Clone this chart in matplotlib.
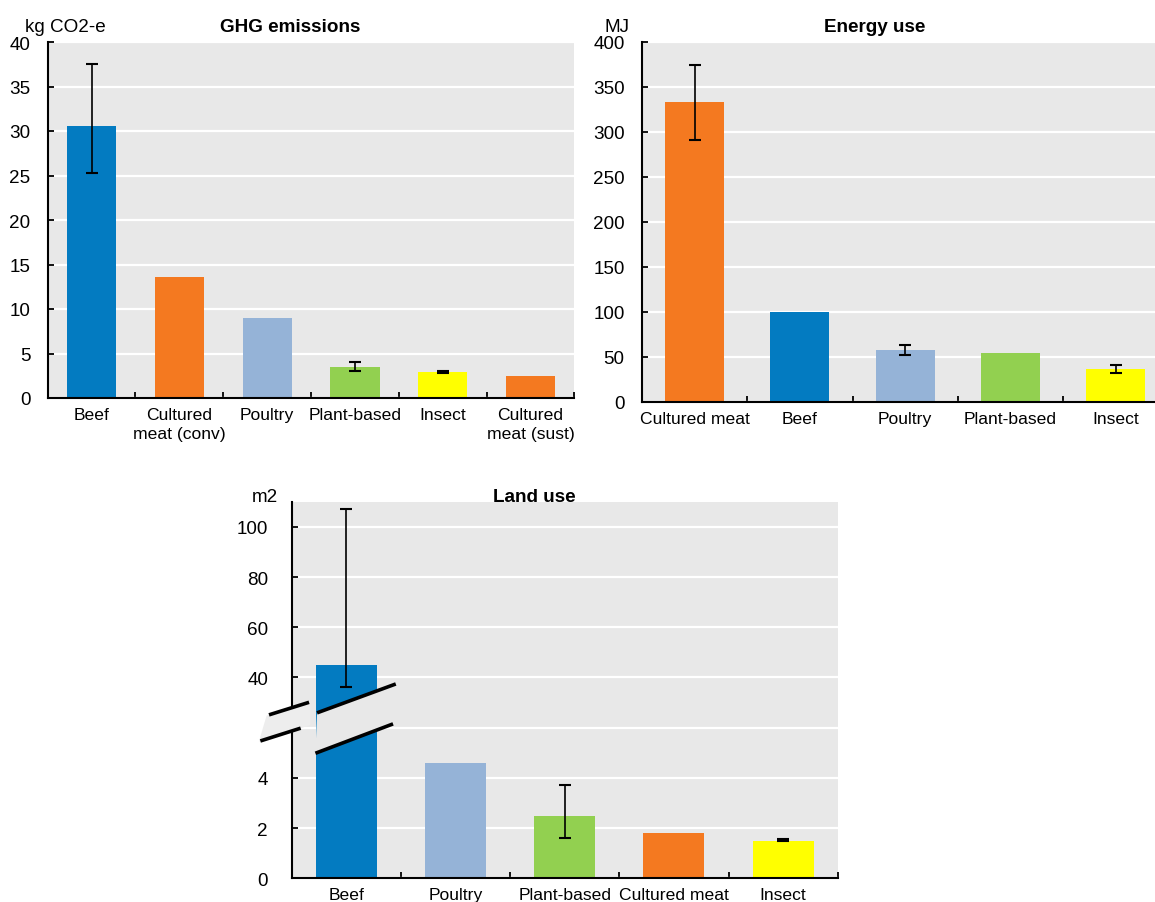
import numpy as np
import matplotlib
matplotlib.use('Agg')
import matplotlib.pyplot as plt
from matplotlib.transforms import blended_transform_factory
from matplotlib.patches import Polygon

plt.rcParams['font.family'] = ['Liberation Sans Narrow', 'Liberation Sans', 'DejaVu Sans']
plt.rcParams['font.size'] = 12.6
plt.rcParams['ytick.labelsize'] = 13.6

BLUE = '#037BC1'
ORANGE = '#F47920'
LIGHTBLUE = '#95B3D7'
GREEN = '#92D050'
YELLOW = '#FFFF00'
BG = '#E8E8E8'

# GHG emissions, kg CO2-e
ghg_labels = ['Beef', 'Cultured\nmeat (conv)', 'Poultry', 'Plant-based', 'Insect', 'Cultured\nmeat (sust)']
ghg_values = [30.6, 13.6, 9.0, 3.5, 2.92, 2.5]
ghg_low = [25.3, None, None, 3.05, 2.85, None]
ghg_high = [37.5, None, None, 4.0, 3.07, None]
ghg_colors = [BLUE, ORANGE, LIGHTBLUE, GREEN, YELLOW, ORANGE]

# Energy use, MJ
energy_labels = ['Cultured meat', 'Beef', 'Poultry', 'Plant-based', 'Insect']
energy_values = [332.7, 100.0, 57.4, 54.0, 36.3]
energy_low = [291.0, None, 51.5, None, 32.0]
energy_high = [373.8, None, 63.3, None, 40.3]
energy_colors = [ORANGE, BLUE, LIGHTBLUE, GREEN, YELLOW]

# Land use, m2
land_labels = ['Beef', 'Poultry', 'Plant-based', 'Cultured meat', 'Insect']
land_values = [45.0, 4.6, 2.5, 1.8, 1.5]
land_low = [36.2, None, 1.6, None, 1.48]
land_high = [107.1, None, 3.7, None, 1.55]
land_colors = [BLUE, LIGHTBLUE, GREEN, ORANGE, YELLOW]

HEAD = 13.6


def style_axes(ax, n, labels, ypad):
    ax.set_facecolor(BG)
    ax.set_axisbelow(True)
    ax.grid(axis='y', color='white', lw=1.6)
    ax.grid(axis='x', visible=False)
    for s in ['top', 'right']:
        ax.spines[s].set_visible(False)
    for s in ['left', 'bottom']:
        ax.spines[s].set_color('black')
        ax.spines[s].set_linewidth(1.5)
    ax.set_xlim(-0.5, n - 0.5)
    ax.set_xticks(range(n))
    ax.set_xticklabels(labels, linespacing=1.3)
    ax.set_xticks(np.arange(0.5, n), minor=True)
    ax.tick_params(axis='x', which='major', length=0, pad=6.5)
    ax.tick_params(axis='x', which='minor', direction='in', length=4, width=1.3, color='black')
    ax.tick_params(axis='y', direction='in', length=4, width=1.3, color='black', pad=ypad)


def draw_bars(ax, values, low, high, colors):
    x = np.arange(len(values))
    ax.bar(x, values, width=0.56, color=colors, zorder=2)
    for i, (v, lo, hi) in enumerate(zip(values, low, high)):
        if lo is None:
            continue
        ax.errorbar(i, v, yerr=[[v - lo], [hi - v]], fmt='none', ecolor='black',
                    elinewidth=1.2, capsize=4, capthick=1.5, zorder=3)


fig = plt.figure(figsize=(11.55, 9.03), dpi=100)
W, H = 1155, 903


def fig_xy(px, py):
    return px / W, 1 - py / H


# GHG emissions
ax1 = fig.add_axes([47.7 / W, 1 - 399 / H, 526.8 / W, 356 / H])
style_axes(ax1, len(ghg_values), ghg_labels, 12.5)
draw_bars(ax1, ghg_values, ghg_low, ghg_high, ghg_colors)
ax1.set_ylim(0, 40)
ax1.set_yticks(range(0, 41, 5))
fig.text(*fig_xy(25, 32.5), 'kg CO2-e', ha='left', va='baseline', fontsize=HEAD)
fig.text(*fig_xy(290, 32.5), 'GHG emissions', ha='center', va='baseline',
         fontweight='bold', fontsize=HEAD)

# Energy use
ax2 = fig.add_axes([642 / W, 1 - 402.7 / H, 526.5 / W, 360 / H])
style_axes(ax2, len(energy_values), energy_labels, 12.5)
draw_bars(ax2, energy_values, energy_low, energy_high, energy_colors)
ax2.set_ylim(0, 400)
ax2.set_yticks(range(0, 401, 50))
fig.text(*fig_xy(605, 32.5), 'MJ', ha='left', va='baseline', fontsize=HEAD)
fig.text(*fig_xy(875, 32.5), 'Energy use', ha='center', va='baseline',
         fontweight='bold', fontsize=HEAD)


# Land use: broken axis, 0-6 linear below, 20-110 compressed tenfold above
def land_fwd(v):
    v = np.asarray(v, dtype=float)
    return np.where(v <= 6, v, np.where(v >= 20, 4 + v / 10, 6.0))


def land_inv(d):
    d = np.asarray(d, dtype=float)
    return np.where(d <= 6, d, 10 * (d - 4))


ax3 = fig.add_axes([291.7 / W, 1 - 879.3 / H, 546 / W, 376.6 / H])
ax3.set_yscale('function', functions=(land_fwd, land_inv))
style_axes(ax3, len(land_values), land_labels, 17)
draw_bars(ax3, land_values, land_low, land_high, land_colors)
ax3.set_ylim(0, 110)
ax3.set_yticks([0, 2, 4, 6, 40, 60, 80, 100])
ax3.set_yticklabels(['0', '2', '4', '', '40', '60', '80', '100'])
fig.text(*fig_xy(252, 502), 'm2', ha='left', va='baseline', fontsize=HEAD)
fig.text(*fig_xy(534, 502), 'Land use', ha='center', va='baseline',
         fontweight='bold', fontsize=HEAD)

# break marks; y in scaled units (0-15 across the axes height)
tr = blended_transform_factory(ax3.transData, ax3.transAxes)
top = 15.0
left_band = [(-0.80, 5.45), (-0.33, 6.10), (-0.33, 7.04), (-0.73, 6.48)]
right_band = [(-0.283, 4.98), (0.428, 6.15), (0.453, 7.74), (-0.268, 6.59)]
for band, col in [(left_band, '#EDEDED'), (right_band, BG)]:
    ax3.add_patch(Polygon([(x, d / top) for x, d in band], closed=True, facecolor=col,
                          edgecolor='none', transform=tr, clip_on=False, zorder=4))
break_lines = [
    [(-0.708, 6.51), (-0.341, 7.01)],
    [(-0.787, 5.47), (-0.418, 5.98)],
    [(-0.268, 6.59), (0.453, 7.74)],
    [(-0.283, 4.98), (0.428, 6.15)],
]
for seg in break_lines:
    xs = [p[0] for p in seg]
    ys = [p[1] / top for p in seg]
    ax3.plot(xs, ys, color='black', lw=2.6, solid_capstyle='butt', transform=tr,
             clip_on=False, zorder=5)

fig.savefig('out.png', dpi=100)
